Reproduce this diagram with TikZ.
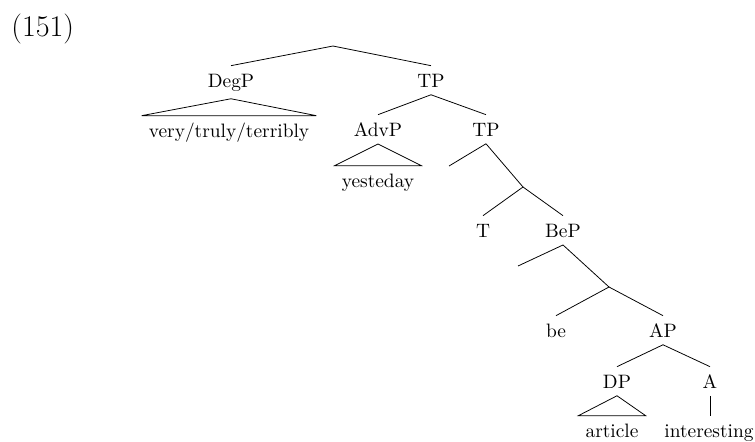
\documentclass[tikz,border=0pt]{standalone}
\begin{document}
\begin{tikzpicture}[x=0.5155pt,y=-0.5155pt,
  tn/.style={anchor=base,inner xsep=3.5pt,inner ysep=3.8pt,text height=7pt},
  ex/.style={anchor=base west,inner sep=0pt,font=\fontsize{15.5}{18}\selectfont}]
\useasboundingbox (0,0) rectangle (755,441);
\node[ex] (num) at (11,36) {(151)};
\coordinate (root) at (333,46);
\node[tn] (degp) at (231,87) {DegP};
\node[tn] (tp1) at (431,87) {TP};
\node[tn] (degl) at (229,137) {very/truly/terribly};
\node[tn] (advp) at (378,136) {AdvP};
\node[tn] (tp2) at (486,136) {TP};
\node[tn] (yest) at (378,187) {yesteday};
\coordinate (e1) at (449,166);
\coordinate (j1) at (523,187);
\node[tn] (t) at (483,237) {T};
\node[tn] (bep) at (563,237) {BeP};
\coordinate (e2) at (518,266);
\coordinate (j2) at (609,287);
\node[tn] (be) at (556,337) {be};
\node[tn] (ap) at (663,337) {AP};
\node[tn] (dp) at (617,388) {DP};
\node[tn] (a) at (710,388) {A};
\node[tn] (art) at (612,437) {article};
\node[tn] (int) at (709,437) {interesting};
\draw (root) -- (degp.north);
\draw (root) -- (tp1.north);
\draw (degl.north west) -- (degp.south) -- (degl.north east) -- cycle;
\draw (tp1.south) -- (advp.north);
\draw (tp1.south) -- (tp2.north);
\draw (yest.north west) -- (advp.south) -- (yest.north east) -- cycle;
\draw (tp2.south) -- (e1);
\draw (tp2.south) -- (j1);
\draw (j1) -- (t.north);
\draw (j1) -- (bep.north);
\draw (bep.south) -- (e2);
\draw (bep.south) -- (j2);
\draw (j2) -- (be.north);
\draw (j2) -- (ap.north);
\draw (ap.south) -- (dp.north);
\draw (ap.south) -- (a.north);
\draw (art.north west) -- (dp.south) -- (art.north east) -- cycle;
\draw (a.south) -- (a.south |- int.north);
\end{tikzpicture}
\end{document}
